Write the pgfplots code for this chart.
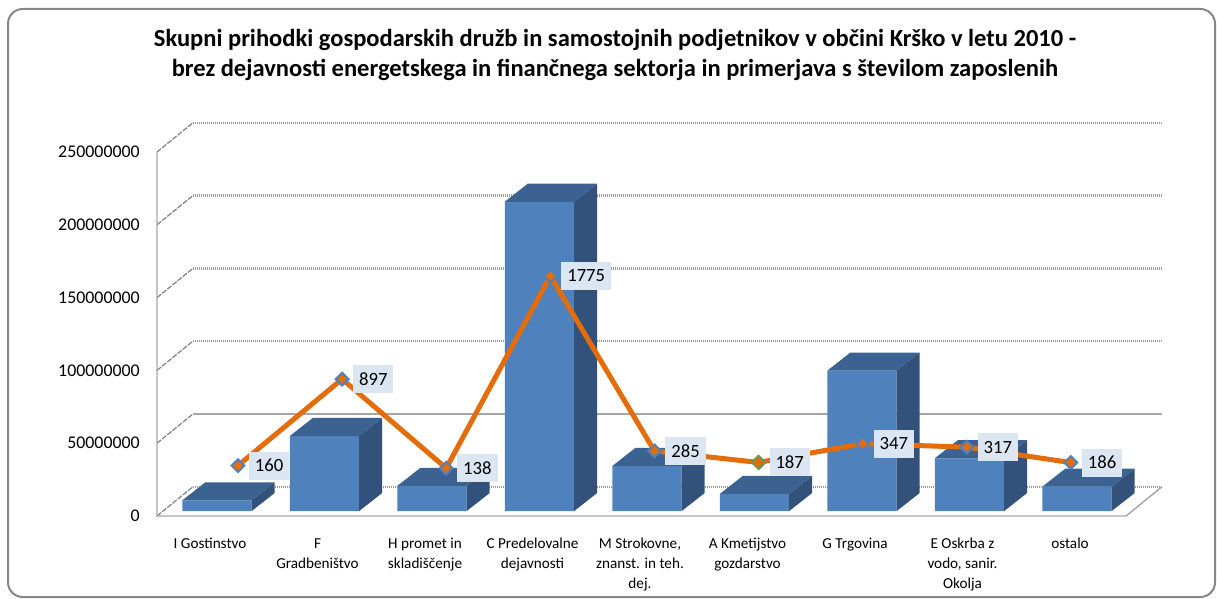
\documentclass[border=0pt]{standalone}
\usepackage{fontspec}
\setmainfont{Carlito}
\usepackage{pgfplots}
\usepackage{pgfplotstable}
\pgfplotsset{compat=1.18}

\definecolor{barfront}{HTML}{4F81BD}
\definecolor{bartop}{HTML}{3C6292}
\definecolor{barside}{HTML}{32527C}
\definecolor{lineorange}{HTML}{E46C0A}
\definecolor{mkblue}{HTML}{4F81BD}
\definecolor{mkgreen}{HTML}{77933C}
\definecolor{lblfill}{HTML}{DCE6F2}
\definecolor{gridgray}{HTML}{9C9C9C}
\definecolor{solidgray}{HTML}{A6A6A6}
\definecolor{framegray}{HTML}{878787}

% revenue in millions (front face height above the bar base)
\pgfplotstableread{
i v
0 7.3
1 51.5
2 17.2
3 212.4
4 30.9
5 11.7
6 96.4
7 36.2
8 16.7
}\revenue

% number of employees
\pgfplotstableread{
i emp
0 160
1 897
2 138
3 1775
4 285
5 187
6 347
7 317
8 186
}\employees

\begin{document}
\begin{tikzpicture}
\useasboundingbox (0,0) rectangle (912.75pt,-449.25pt);
\draw[framegray, line width=1.5pt, rounded corners=11pt] (6pt,-6.75pt) rectangle (911.25pt,-447.75pt);
\node[anchor=north, align=center, inner sep=0pt, font=\fontsize{18.4}{22.5}\selectfont\bfseries] at (461.25pt,-21.5pt)
 {Skupni prihodki gospodarskih družb in samostojnih podjetnikov v občini Krško v letu 2010 -\\
  brez dejavnosti energetskega in finančnega sektorja in primerjava s številom zaposlenih};

\begin{axis}[
  at={(117.75pt,-387pt)}, anchor=south west,
  width=726.75pt, height=273pt, scale only axis,
  xmin=-0.5581, xmax=8.4558, ymin=-3.43, ymax=246.57,
  clip=false,
  axis line style={draw=none},
  major tick length=0pt,
  xtick={0,1,2,3,4,5,6,7,8},
  xticklabels={{I Gostinstvo},{F\\Gradbeništvo},{H promet in\\skladiščenje},{C Predelovalne\\dejavnosti},{M Strokovne,\\znanst. in teh.\\dej.},{A Kmetijstvo\\gozdarstvo},{G Trgovina},{E Oskrba z\\vodo, sanir.\\Okolja},{ostalo}},
  xticklabel style={align=center, anchor=north, inner sep=0pt, yshift=-16.5pt, xshift=-5.25pt, font=\fontsize{11.4}{15}\selectfont},
  ytick={-3.43,46.57,96.57,146.57,196.57,246.57},
  yticklabels={0,50000000,100000000,150000000,200000000,250000000},
  yticklabel style={anchor=east, inner sep=0pt, xshift=-12.75pt, font=\fontsize{13.4}{16}\selectfont},
]
% back wall gridlines
\draw[gridgray, line width=1.8pt, dash pattern=on 0.75pt off 0.75pt] (axis cs:-0.2232,16.69) -- (axis cs:8.7907,16.69);
\draw[solidgray, line width=1.5pt] (axis cs:-0.2232,66.69) -- (axis cs:8.7907,66.69);
\draw[gridgray, line width=1.8pt, dash pattern=on 0.75pt off 0.75pt] (axis cs:-0.2232,116.69) -- (axis cs:8.7907,116.69);
\draw[gridgray, line width=1.8pt, dash pattern=on 0.75pt off 0.75pt] (axis cs:-0.2232,166.69) -- (axis cs:8.7907,166.69);
\draw[gridgray, line width=1.8pt, dash pattern=on 0.75pt off 0.75pt] (axis cs:-0.2232,216.69) -- (axis cs:8.7907,216.69);
\draw[gridgray, line width=1.8pt, dash pattern=on 0.75pt off 0.75pt] (axis cs:-0.2232,266.69) -- (axis cs:8.7907,266.69);
% side wall diagonals
\draw[gray, line width=0.9pt, dash pattern=on 4pt off 1pt] (axis cs:-0.5581,-3.43) -- (axis cs:-0.2232,16.69);
\draw[gray, line width=0.9pt, dash pattern=on 4pt off 1pt] (axis cs:-0.5581,46.57) -- (axis cs:-0.2232,66.69);
\draw[gray, line width=0.9pt, dash pattern=on 4pt off 1pt] (axis cs:-0.5581,96.57) -- (axis cs:-0.2232,116.69);
\draw[gray, line width=0.9pt, dash pattern=on 4pt off 1pt] (axis cs:-0.5581,146.57) -- (axis cs:-0.2232,166.69);
\draw[gray, line width=0.9pt, dash pattern=on 4pt off 1pt] (axis cs:-0.5581,196.57) -- (axis cs:-0.2232,216.69);
\draw[gray, line width=0.9pt, dash pattern=on 4pt off 1pt] (axis cs:-0.5581,246.57) -- (axis cs:-0.2232,266.69);
% left axis and floor
\draw[solidgray, line width=1.1pt] (axis cs:-0.5581,246.57) -- (axis cs:-0.5581,-3.43) -- (axis cs:8.4558,-3.43) -- (axis cs:8.7907,16.69);

% bars: front faces
\addplot[ybar, bar width=0.646, fill=barfront, draw=none] table[x=i,y=v]{\revenue};
% top and side faces
\addplot[fill=bartop, draw=none] coordinates {(-0.323,7.3) (0.323,7.3) (0.537,19.7) (-0.109,19.7)} -- cycle;
\addplot[fill=barside, draw=none] coordinates {(0.323,0) (0.537,12.4) (0.537,19.7) (0.323,7.3)} -- cycle;
\addplot[fill=bartop, draw=none] coordinates {(0.677,51.5) (1.323,51.5) (1.537,63.9) (0.891,63.9)} -- cycle;
\addplot[fill=barside, draw=none] coordinates {(1.323,0) (1.537,12.4) (1.537,63.9) (1.323,51.5)} -- cycle;
\addplot[fill=bartop, draw=none] coordinates {(1.677,17.2) (2.323,17.2) (2.537,29.6) (1.891,29.6)} -- cycle;
\addplot[fill=barside, draw=none] coordinates {(2.323,0) (2.537,12.4) (2.537,29.6) (2.323,17.2)} -- cycle;
\addplot[fill=bartop, draw=none] coordinates {(2.677,212.4) (3.323,212.4) (3.537,224.8) (2.891,224.8)} -- cycle;
\addplot[fill=barside, draw=none] coordinates {(3.323,0) (3.537,12.4) (3.537,224.8) (3.323,212.4)} -- cycle;
\addplot[fill=bartop, draw=none] coordinates {(3.677,30.9) (4.323,30.9) (4.537,43.3) (3.891,43.3)} -- cycle;
\addplot[fill=barside, draw=none] coordinates {(4.323,0) (4.537,12.4) (4.537,43.3) (4.323,30.9)} -- cycle;
\addplot[fill=bartop, draw=none] coordinates {(4.677,11.7) (5.323,11.7) (5.537,24.1) (4.891,24.1)} -- cycle;
\addplot[fill=barside, draw=none] coordinates {(5.323,0) (5.537,12.4) (5.537,24.1) (5.323,11.7)} -- cycle;
\addplot[fill=bartop, draw=none] coordinates {(5.677,96.4) (6.323,96.4) (6.537,108.8) (5.891,108.8)} -- cycle;
\addplot[fill=barside, draw=none] coordinates {(6.323,0) (6.537,12.4) (6.537,108.8) (6.323,96.4)} -- cycle;
\addplot[fill=bartop, draw=none] coordinates {(6.677,36.2) (7.323,36.2) (7.537,48.6) (6.891,48.6)} -- cycle;
\addplot[fill=barside, draw=none] coordinates {(7.323,0) (7.537,12.4) (7.537,48.6) (7.323,36.2)} -- cycle;
\addplot[fill=bartop, draw=none] coordinates {(7.677,16.7) (8.323,16.7) (8.537,29.1) (7.891,29.1)} -- cycle;
\addplot[fill=barside, draw=none] coordinates {(8.323,0) (8.537,12.4) (8.537,29.1) (8.323,16.7)} -- cycle;
\end{axis}

\begin{axis}[
  at={(117.75pt,-387pt)}, anchor=south west,
  width=726.75pt, height=273pt, scale only axis,
  xmin=-0.778, xmax=8.530, ymin=-269.2, ymax=2831.3,
  hide axis, clip=false,
]
\addplot[lineorange, line width=3.75pt,
  mark=square*, mark size=3.4pt,
  mark options={rotate=45, fill=lineorange, draw=mkblue, line width=1.5pt, solid},
  nodes near coords, point meta=explicit symbolic,
  nodes near coords style={anchor=west, xshift=7.5pt, fill=lblfill, text=black,
    inner xsep=4.5pt, inner ysep=0pt, minimum height=21pt,
    font=\fontsize{14}{16}\selectfont},
] table[x=i, y=emp, meta=emp]{\employees};
\addplot[only marks, mark=square*, mark size=3.4pt,
  mark options={rotate=45, fill=lineorange, draw=mkgreen, line width=1.5pt}]
  coordinates {(5,187)};
\end{axis}
\end{tikzpicture}
\end{document}
